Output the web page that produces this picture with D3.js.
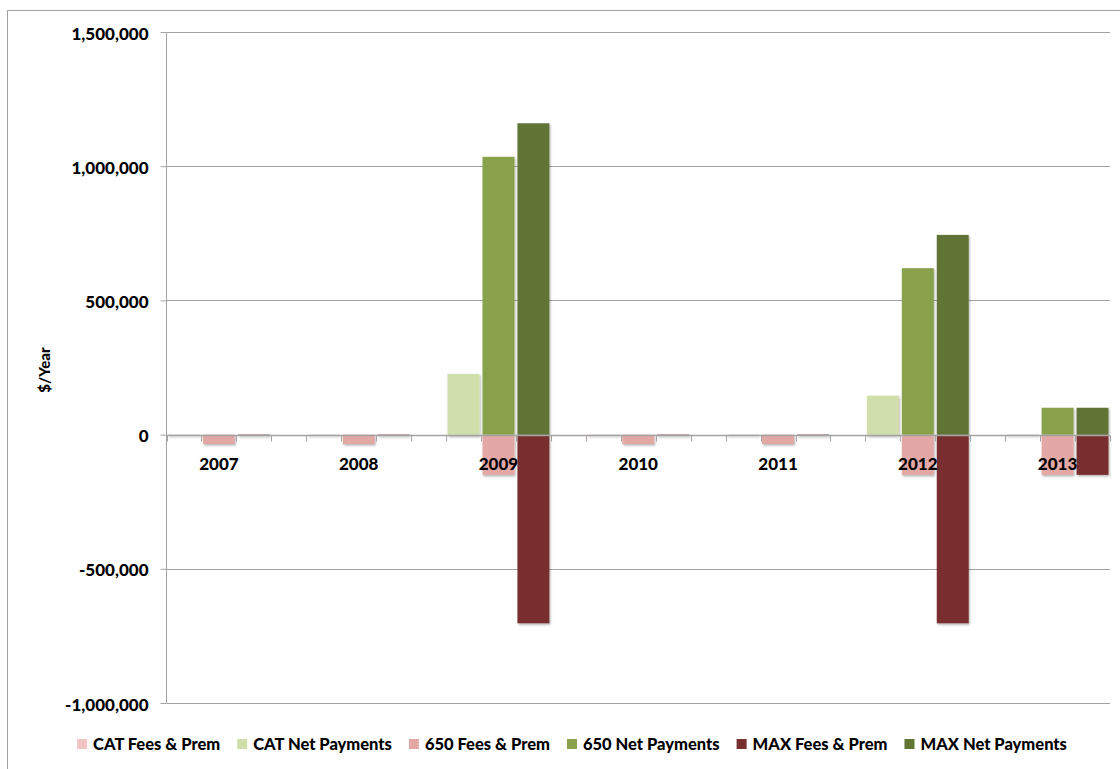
<!DOCTYPE html>
<html><head><meta charset="utf-8">
<script src="https://cdnjs.cloudflare.com/ajax/libs/d3/7.8.5/d3.min.js"></script>
<style>
html,body{margin:0;padding:0;background:#fff;}
svg text{font-family:Lato,"Open Sans",sans-serif;font-weight:900;fill:#000;}
</style></head>
<body><svg id="c" width="1120" height="769"></svg>
<script>
const years = ["2007","2008","2009","2010","2011","2012","2013"];
const groups = ["CAT","650","MAX"];
const seriesNames = ["CAT Fees & Prem","CAT Net Payments","650 Fees & Prem","650 Net Payments","MAX Fees & Prem","MAX Net Payments"];
const seriesColors = ["#EFC4C3","#CFDEAB","#E3A7A5","#8AA14B","#782F2D","#617535"];
const catFees = [-4000,-4000,-4000,-4000,-4000,-4000,-4000];
const catNet  = [0,0,226000,0,0,145000,0];
const fees650 = [-35000,-35000,-150000,-35000,-35000,-150000,-150000];
const net650  = [0,0,1035000,0,0,620000,100000];
const maxFees = [-5000,-5000,-703000,-5000,-5000,-703000,-150000];
const maxNet  = [0,0,1160000,0,0,744000,100000];
const yTicks = [-1000000,-500000,0,500000,1000000,1500000];

const seriesValues = [catFees,catNet,fees650,net650,maxFees,maxNet];
const seriesGroup = ["CAT","CAT","650","650","MAX","MAX"];

(function(){
const svg = d3.select("#c");
const pL = 166.5, pR = 1110, pT = 32, pB = 703;

svg.append("rect").attr("x",7.5).attr("y",10.5).attr("width",1130).attr("height",780)
  .attr("fill","none").attr("stroke","#A0A0A0").attr("stroke-width",1);

const defs = svg.append("defs");
const f = defs.append("filter").attr("id","sh").attr("x","-20%").attr("y","-20%").attr("width","140%").attr("height","140%");
f.append("feDropShadow").attr("dx",1).attr("dy",1.5).attr("stdDeviation",1.2).attr("flood-color","#000").attr("flood-opacity",0.3);

const y = d3.scaleLinear().domain([-1000000,1500000]).range([pB,pT]);
const x = d3.scaleBand().domain(years).range([pL,pR]).paddingInner(0.25).paddingOuter(0);
const xi = d3.scaleBand().domain(groups).range([0,x.bandwidth()]).padding(0);

svg.append("g").selectAll("line").data(yTicks).join("line")
  .attr("x1",pL).attr("x2",pR)
  .attr("y1",d=>Math.round(y(d))+0.5).attr("y2",d=>Math.round(y(d))+0.5)
  .attr("stroke","#A3A3A3").attr("stroke-width",1);

const fmt = d3.format(",");
const yAxis = d3.axisLeft(y).tickValues(yTicks).tickSize(6).tickPadding(12)
  .tickFormat(d=>fmt(d).replace("\u2212","-"));
const ga = svg.append("g").attr("transform",`translate(${pL},0)`).call(yAxis);
ga.selectAll("path,line").attr("stroke","#A3A3A3");
ga.select(".domain").attr("d",`M0,${pT}V${pB}`);
ga.selectAll("text").attr("font-size",17).attr("font-family","Lato").attr("font-weight",900).attr("dy","0.42em");

const bars = [];
seriesValues.forEach((vals,si)=>{
  vals.forEach((v,yi)=>bars.push({s:si,year:years[yi],g:seriesGroup[si],v:v}));
});
svg.append("g").attr("filter","url(#sh)").selectAll("rect").data(bars.filter(d=>d.v!==0)).join("rect")
  .attr("x",d=>x(d.year)+xi(d.g)+1.5)
  .attr("width",xi.bandwidth()-3)
  .attr("y",d=>y(Math.max(0,d.v)))
  .attr("height",d=>Math.max(1,Math.abs(y(d.v)-y(0))))
  .attr("fill",d=>seriesColors[d.s]);

const y0 = Math.round(y(0))+0.5;
svg.append("line").attr("x1",pL).attr("x2",pR).attr("y1",y0).attr("y2",y0).attr("stroke","#A3A3A3").attr("stroke-width",1.3);
const tickXs = [];
years.forEach(yr=>{ for(let k=0;k<=3;k++) tickXs.push(x(yr)+k*xi.step()); });
svg.append("g").selectAll("line").data(tickXs).join("line")
  .attr("x1",d=>Math.round(d)+0.5).attr("x2",d=>Math.round(d)+0.5)
  .attr("y1",y0).attr("y2",y0+6).attr("stroke","#A3A3A3");

svg.append("g").selectAll("text").data(years).join("text")
  .attr("x",d=>x(d)+xi("650")+xi.bandwidth()/2)
  .attr("y",470).attr("text-anchor","middle").attr("font-size",17).text(d=>d);

svg.append("text").attr("transform","translate(50,370) rotate(-90)").attr("text-anchor","middle")
  .attr("font-size",15).text("$/Year");

const lg = svg.append("g");
let cx = 0;
seriesNames.forEach((n,i)=>{
  const it = lg.append("g").attr("transform",`translate(${cx},0)`);
  it.append("rect").attr("x",0).attr("y",-11).attr("width",10).attr("height",10).attr("fill",seriesColors[i]);
  const t = it.append("text").attr("x",16).attr("y",0).attr("font-size",16.5).text(n);
  cx += 16 + t.node().getComputedTextLength() + 17;
});
cx -= 17;
lg.attr("transform",`translate(${572 - cx/2},750)`);
})();
</script></body></html>
